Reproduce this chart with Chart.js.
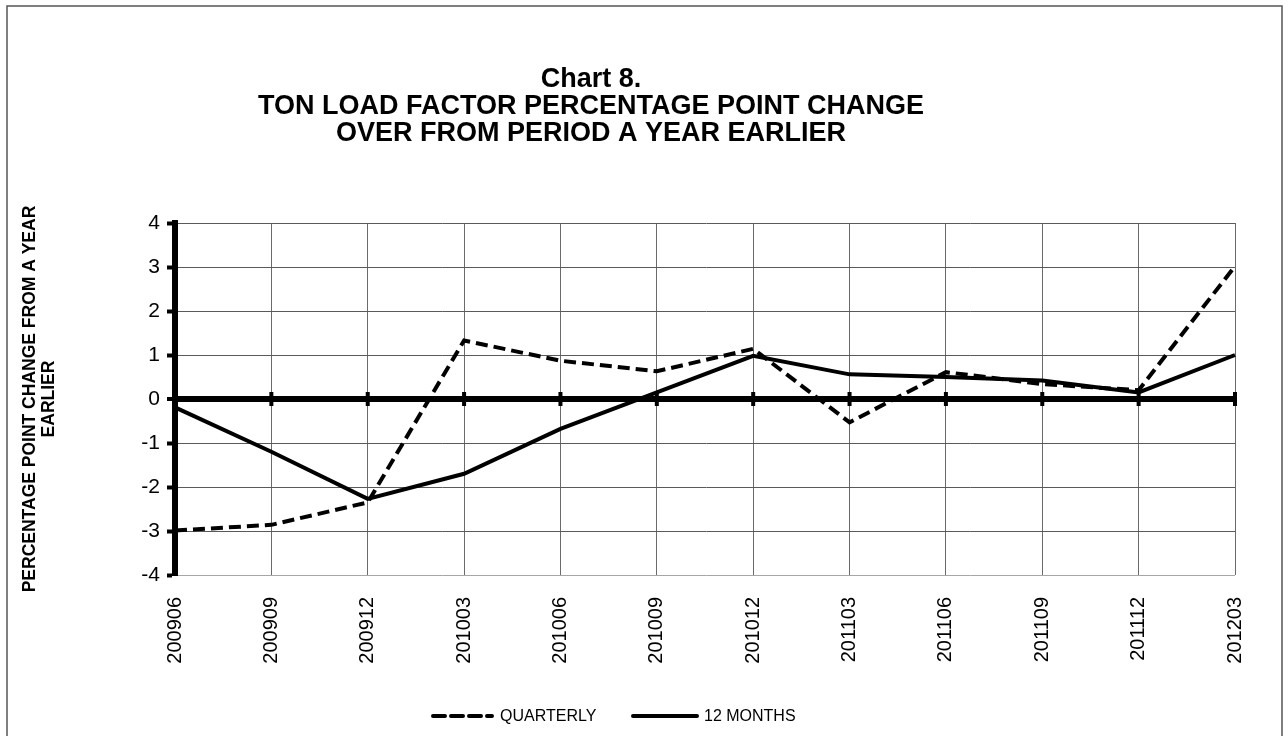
<!DOCTYPE html>
<html>
<head>
<meta charset="utf-8">
<script src="https://cdn.jsdelivr.net/npm/chart.js@4.4.1/dist/chart.umd.min.js"></script>
<style>
    html, body { margin: 0; padding: 0; background: #fff; }
    #wrap { width: 1288px; height: 736px; position: relative; }
</style>
</head>
<body>
<div id="wrap"><canvas id="loadFactorChart" width="1288" height="736"></canvas></div>
<script>
// Chart data
const categories = ['200906', '200909', '200912', '201003', '201006', '201009',
    '201012', '201103', '201106', '201109', '201112', '201203'];
const quarterly = [-2.99, -2.86, -2.35, 1.33, 0.87, 0.63, 1.14, -0.53, 0.61, 0.34, 0.2, 3.02];
const twelveMonths = [-0.19, -1.2, -2.27, -1.7, -0.68, 0.15, 0.98, 0.56, 0.5, 0.42, 0.15, 1.0];
const yMin = -4;
const yMax = 4;
const seriesNames = ['QUARTERLY', '12 MONTHS'];
const titleLines = ['Chart 8.', 'TON LOAD FACTOR PERCENTAGE POINT CHANGE', 'OVER FROM PERIOD A YEAR EARLIER'];
const yAxisTitle = ['PERCENTAGE POINT CHANGE FROM A YEAR', 'EARLIER'];

const FONT = "'Liberation Sans', Arial, sans-serif";

// Frame, title and legend drawn by hand (the original is not centred)
const decorPlugin = {
    id: 'decor',
    beforeDraw: function(chart) {
        const ctx = chart.ctx;
        ctx.save();
        ctx.fillStyle = '#fff';
        ctx.fillRect(0, 0, chart.width, chart.height);
        ctx.strokeStyle = '#555';
        ctx.lineWidth = 1.5;
        ctx.strokeRect(7, 6, 1275, 760);
        ctx.restore();
    },
    afterDatasetsDraw: function(chart) {
        const ctx = chart.ctx;
        const xs = chart.scales.x;
        const ys = chart.scales.y;
        const y0 = ys.getPixelForValue(0);

        // tick marks crossing the zero line
        ctx.save();
        ctx.fillStyle = '#000';
        categories.forEach(function(c, i) {
            const x = xs.getPixelForValue(i);
            ctx.fillRect(x - 2, y0 - 7, 4, 14);
        });
        ctx.restore();

        // title
        ctx.save();
        ctx.fillStyle = '#000';
        ctx.font = 'bold 27px ' + FONT;
        ctx.textAlign = 'center';
        ctx.textBaseline = 'middle';
        const titleY = [80, 107, 134];
        titleLines.forEach(function(line, i) {
            ctx.fillText(line, 591, titleY[i]);
        });
        ctx.restore();

        // legend
        ctx.save();
        ctx.font = '16px ' + FONT;
        ctx.textBaseline = 'middle';
        ctx.fillStyle = '#000';
        ctx.strokeStyle = '#000';
        ctx.lineWidth = 4;
        const ly = 716;
        const items = [
            { x1: 433, x2: 492, tx: 500 },
            { x1: 633, x2: 697, tx: 704 }
        ];
        chart.data.datasets.forEach(function(ds, i) {
            const it = items[i];
            ctx.setLineDash(ds.borderDash || []);
            ctx.lineCap = 'round';
            ctx.beginPath();
            ctx.moveTo(it.x1, ly);
            ctx.lineTo(it.x2, ly);
            ctx.stroke();
            ctx.setLineDash([]);
            ctx.fillText(ds.label, it.tx, ly + 1);
        });
        ctx.restore();
    }
};

const ctx = document.getElementById('loadFactorChart');
new Chart(ctx, {
    type: 'line',
    data: {
        labels: categories,
        datasets: [{
            label: seriesNames[0],
            data: quarterly,
            borderColor: '#000',
            borderWidth: 4,
            borderDash: [12, 6],
            pointRadius: 0,
            tension: 0,
            fill: false
        }, {
            label: seriesNames[1],
            data: twelveMonths,
            borderColor: '#000',
            borderWidth: 4,
            pointRadius: 0,
            tension: 0,
            fill: false
        }]
    },
    options: {
        responsive: false,
        animation: false,
        devicePixelRatio: 1,
        layout: {
            padding: { left: 0, right: 53, top: 223, bottom: 0 }
        },
        plugins: {
            legend: { display: false },
            title: { display: false },
            tooltip: { enabled: false }
        },
        scales: {
            x: {
                offset: false,
                grid: {
                    color: '#6a6a6a',
                    lineWidth: 1,
                    drawTicks: false
                },
                border: { display: false },
                ticks: {
                    autoSkip: false,
                    minRotation: 90,
                    maxRotation: 90,
                    padding: 22,
                    color: '#000',
                    font: { family: FONT, size: 20 }
                },
                afterFit: function(scale) { scale.height = 161; }
            },
            y: {
                min: yMin,
                max: yMax,
                ticks: {
                    stepSize: 1,
                    padding: 7,
                    color: '#000',
                    font: { family: FONT, size: 21 }
                },
                grid: {
                    color: function(c) {
                        if (c.tick && c.tick.value === 0) return '#000';
                        if (c.tick && c.tick.value === yMin) return '#a6a6a6';
                        return '#5a5a5a';
                    },
                    lineWidth: function(c) {
                        return c.tick && c.tick.value === 0 ? 6 : 1;
                    },
                    tickColor: '#000',
                    tickWidth: 4,
                    tickLength: 8
                },
                border: { display: true, color: '#000', width: 6 },
                title: {
                    display: true,
                    text: yAxisTitle,
                    color: '#000',
                    font: { family: FONT, size: 17.5, weight: 'bold', lineHeight: 1.08 },
                    padding: { top: 21, bottom: 0 }
                },
                afterFit: function(scale) { scale.width = 175; }
            }
        }
    },
    plugins: [decorPlugin]
});
</script>
</body>
</html>
